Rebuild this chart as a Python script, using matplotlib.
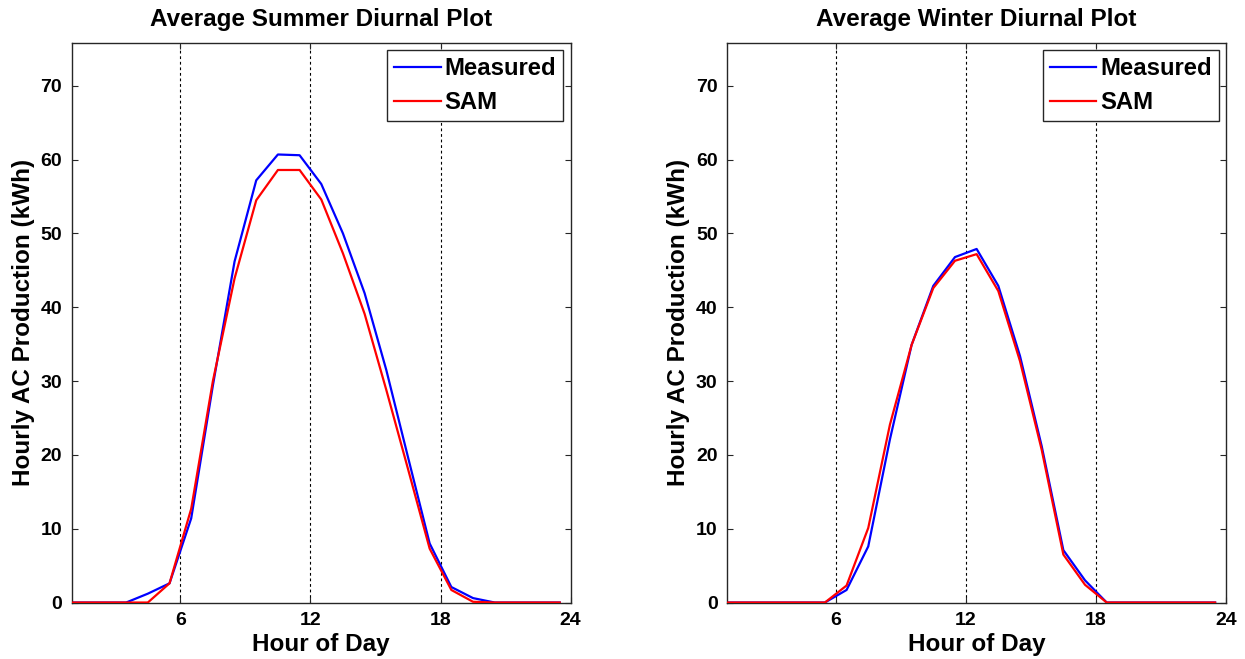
import numpy as np
import matplotlib
matplotlib.use("Agg")
import matplotlib.pyplot as plt

plt.rcParams['font.family'] = ['Liberation Sans', 'DejaVu Sans']
plt.rcParams['font.weight'] = 'bold'

hours = np.arange(0.5, 24, 1)

summer_measured = [0, 0, 0, 0, 1.2, 2.6, 11.4, 29.4, 46.2, 57.2, 60.7, 60.6,
                   56.7, 50.0, 41.9, 31.5, 19.7, 8.0, 2.1, 0.6, 0, 0, 0, 0]
summer_sam = [0, 0, 0, 0, 0, 2.6, 12.7, 30.0, 43.9, 54.5, 58.6, 58.6,
              54.6, 47.3, 39.1, 28.8, 18.1, 7.3, 1.7, 0.1, 0, 0, 0, 0]

winter_measured = [0, 0, 0, 0, 0, 0, 1.7, 7.6, 22.1, 34.9, 42.9, 46.8,
                   47.9, 42.9, 33.4, 21.2, 7.1, 3.0, 0, 0, 0, 0, 0, 0]
winter_sam = [0, 0, 0, 0, 0, 0, 2.3, 10.1, 24.1, 34.9, 42.6, 46.3,
              47.2, 42.2, 32.7, 20.7, 6.5, 2.4, 0, 0, 0, 0, 0, 0]

titles = ['Average Summer Diurnal Plot', 'Average Winter Diurnal Plot']
xticks = [6, 12, 18, 24]
yticks = [0, 10, 20, 30, 40, 50, 60, 70]
markers = [6, 12, 18]

fig = plt.figure(figsize=(12.45, 6.59), dpi=100)
ax1 = fig.add_axes([0.0578, 0.0857, 0.4005, 0.849])
ax2 = fig.add_axes([0.5842, 0.0857, 0.4005, 0.849])

spine_col = '#262626'
panels = [(ax1, summer_measured, summer_sam, titles[0]),
          (ax2, winter_measured, winter_sam, titles[1])]

for ax, meas, sam, title in panels:
    for m in markers:
        ax.axvline(m, color='k', lw=0.8, ls=(0, (2.5, 2.5)), zorder=1)
    ax.plot(hours, meas, color='b', lw=1.6, label='Measured', zorder=2)
    ax.plot(hours, sam, color='r', lw=1.6, label='SAM', zorder=3)
    ax.set_xlim(1, 24)
    ax.set_ylim(0, 75.8)
    ax.set_xticks(xticks)
    ax.set_yticks(yticks)
    ax.tick_params(direction='in', length=4.5, width=0.8, colors=spine_col,
                   labelcolor='k', labelsize=14, top=True, right=True, pad=7)
    for s in ax.spines.values():
        s.set_color(spine_col)
        s.set_linewidth(1.0)
    ax.set_title(title, fontsize=17.5, fontweight='bold', pad=12)
    ax.set_xlabel('Hour of Day', fontsize=17.5, fontweight='bold', labelpad=3)
    ax.set_ylabel('Hourly AC Production (kWh)', fontsize=17.5, fontweight='bold', labelpad=4)
    leg = ax.legend(loc='upper right', fontsize=17.2, fancybox=False, framealpha=1,
                    edgecolor=spine_col, handlelength=1.95, handletextpad=0.15,
                    labelspacing=0.45, borderpad=0.3, borderaxespad=0.3)
    leg.get_frame().set_linewidth(1.0)

fig.savefig('out.png', dpi=100)
